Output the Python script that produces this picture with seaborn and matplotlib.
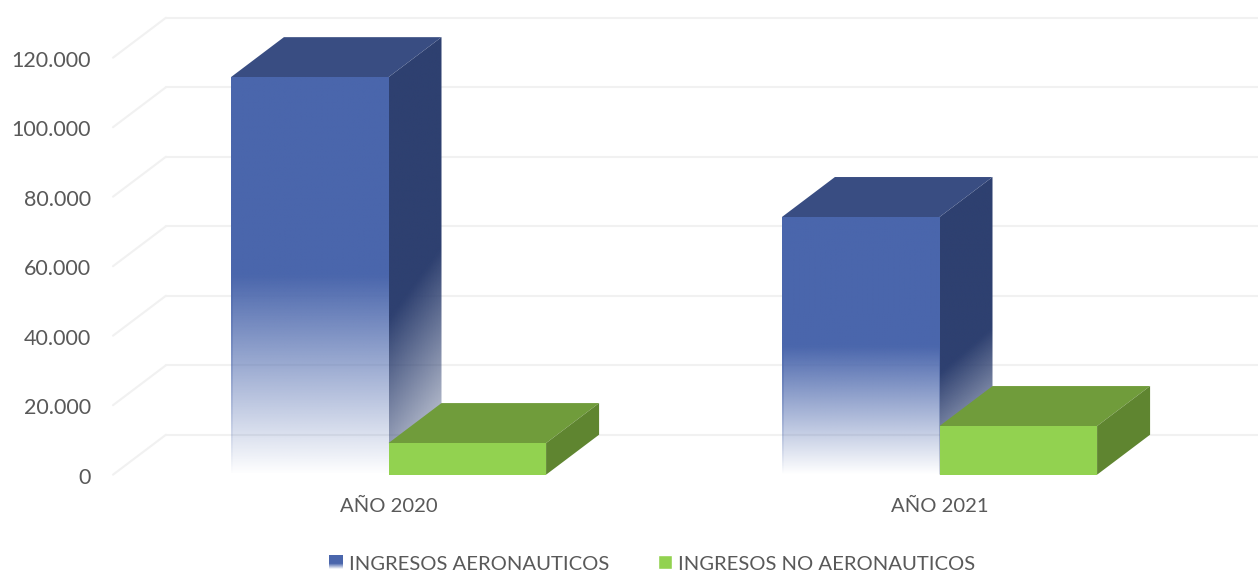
import numpy as np
import pandas as pd
import matplotlib
matplotlib.use("Agg")
import matplotlib.pyplot as plt
import seaborn as sns
from matplotlib.legend_handler import HandlerBase
from matplotlib.lines import Line2D
from matplotlib.patches import Patch, Polygon, Rectangle
from matplotlib.transforms import Affine2D, IdentityTransform, offset_copy
from matplotlib.colors import to_rgb

categories = ["AÑO 2020", "AÑO 2021"]
series_names = ["INGRESOS AERONAUTICOS", "INGRESOS NO AERONAUTICOS"]
aeronauticos = [114400, 74150]
no_aeronauticos = [9100, 14000]
y_ticks = [0, 20000, 40000, 60000, 80000, 100000, 120000]

BLUE, BLUE_TOP, BLUE_SIDE = "#4A66AC", "#394D82", "#2E4070"
GREEN, GREEN_TOP, GREEN_SIDE = "#92D250", "#709C3B", "#5F8530"
GRID = "#F1F1F1"
TEXT = "#595959"
DX, DY = 53, 40
W, H = 1258, 572
FADE = 0.5

sns.set_theme(style="white")
plt.rcParams["font.family"] = ["Lato", "DejaVu Sans"]

df = pd.DataFrame({
    "cat": categories * 2,
    "serie": [series_names[0]] * 2 + [series_names[1]] * 2,
    "valor": aeronauticos + no_aeronauticos,
})

fig = plt.figure(figsize=(W / 100, H / 100), dpi=100, facecolor="white")
ax = fig.add_axes([113 / W, (H - 474.7) / H, 1102 / W, 417 / H])
sns.barplot(data=df, x="cat", y="valor", hue="serie", hue_order=series_names,
            palette=[BLUE, GREEN], width=0.572, gap=0, saturation=1,
            errorbar=None, legend=False, ax=ax, zorder=6, linewidth=0)
ax.set_xlim(-0.5, 1.5)
ax.set_ylim(0, 120000)
ax.set_autoscale_on(False)
ax.set_xlabel("")
ax.set_ylabel("")
ax.set_yticks(y_ticks)
ax.set_yticklabels([f"{v:,}".replace(",", ".") for v in y_ticks])
ax.tick_params(axis="y", length=0, pad=16, labelsize=15.5, labelcolor=TEXT)
ax.tick_params(axis="x", length=0, pad=17, labelsize=14.6, labelcolor=TEXT)
ax.set_facecolor("none")
ax.grid(False)
for s in ax.spines.values():
    s.set_visible(False)
for lab in ax.get_yticklabels():
    lab.set_transform(lab.get_transform() + Affine2D().translate(0, -1))

# receding floor and back-wall grid
back = offset_copy(ax.transData, fig=fig, x=DX, y=DY, units="dots")
for v in y_ticks:
    ax.plot([-0.5, 1.5], [v, v], transform=back, color=GRID, lw=1.5,
            clip_on=False, zorder=1)
    px = ax.transData.transform((-0.5, v))
    ax.add_line(Line2D([px[0], px[0] + DX], [px[1], px[1] + DY],
                       transform=IdentityTransform(), color=GRID, lw=1.5,
                       clip_on=False, zorder=1))


def fade_image(color, x0, x1, y0, y1, alpha, zorder):
    """RGBA image filling a display-pixel box, faded by the alpha array."""
    rgba = np.zeros(alpha.shape + (4,))
    rgba[..., :3] = to_rgb(color)
    rgba[..., 3] = alpha
    inv = ax.transData.inverted()
    (dx0, dy0), (dx1, dy1) = inv.transform([(x0, y0), (x1, y1)])
    im = ax.imshow(rgba, extent=(dx0, dx1, dy0, dy1), origin="lower",
                   aspect="auto", interpolation="bilinear", zorder=zorder)
    im.set_clip_box(fig.bbox)
    return im


def add_faces(patch, top, side, z):
    (x0, y0), (x1, y1) = ax.transData.transform(
        [(patch.get_x(), 0), (patch.get_x() + patch.get_width(), patch.get_height())])
    top_poly = Polygon([(x0, y1), (x1, y1), (x1 + DX, y1 + DY), (x0 + DX, y1 + DY)],
                       transform=IdentityTransform(), fc=top, ec="none",
                       clip_on=False, zorder=z)
    side_pts = [(x1, y0), (x1 + DX, y0 + DY), (x1 + DX, y1 + DY), (x1, y1)]
    ax.add_patch(top_poly)
    return x0, x1, y0, y1, side_pts


# blue columns: fading front and side
for patch in ax.containers[0]:
    x0, x1, y0, y1, side_pts = add_faces(patch, BLUE_TOP, BLUE_SIDE, 3)
    height = y1 - y0
    patch.set_facecolor("none")
    patch.set_edgecolor("none")
    ys = np.linspace(0, 1, 256)
    front_alpha = np.clip(ys / FADE, 0, 1).reshape(-1, 1).repeat(2, axis=1)
    fade_image(BLUE, x0, x1, y0, y1, front_alpha, 4)
    # faint darker line along the column's left edge
    fade_image(BLUE, x0, x0 + 1.3, y0, y1, front_alpha * 0.45, 4.5)
    nx, ny = 120, 400
    u = np.linspace(0, 1, nx)
    sy = np.linspace(y0, y1 + DY, ny)
    uu, yy = np.meshgrid(u, sy)
    vv = (yy - y0) / height + 0.26 - 0.18 * uu
    im = fade_image(BLUE_SIDE, x1, x1 + DX, y0, y1 + DY, np.clip(vv / 0.65, 0, 1), 2)
    clip = Polygon(side_pts, transform=IdentityTransform(), fc="none", ec="none")
    ax.add_patch(clip)
    clip.set_clip_on(False)
    im.set_clip_path(clip)

# green blocks: solid faces
for patch in ax.containers[1]:
    x0, x1, y0, y1, side_pts = add_faces(patch, GREEN_TOP, GREEN_SIDE, 5)
    ax.add_patch(Polygon(side_pts, transform=IdentityTransform(), fc=GREEN_SIDE,
                         ec="none", clip_on=False, zorder=5))


class FadeHandler(HandlerBase):
    def create_artists(self, legend, orig, xd, yd, width, height, fontsize, trans):
        n = 14
        out = []
        for i in range(n):
            f = (i + 0.5) / n
            a = min(1, f / 0.4)
            out.append(Rectangle((-xd, -yd + height * i / n), width, height / n * 1.02,
                                 fc=orig.get_facecolor(), ec="none", alpha=a,
                                 transform=trans))
        return out


handles = [Patch(fc=BLUE, label=series_names[0]), Patch(fc=GREEN, label=series_names[1])]
fig.legend(handles=handles, labels=series_names, loc="center",
           bbox_to_anchor=(652 / W, (H - 564) / H), ncol=2, frameon=False,
           fontsize=14.6, labelcolor=TEXT, handlelength=0.69, handleheight=0.69,
           handletextpad=0.3, columnspacing=2.4, borderpad=0,
           handler_map={handles[0]: FadeHandler()})

fig.savefig("out.png", dpi=100, facecolor="white")
